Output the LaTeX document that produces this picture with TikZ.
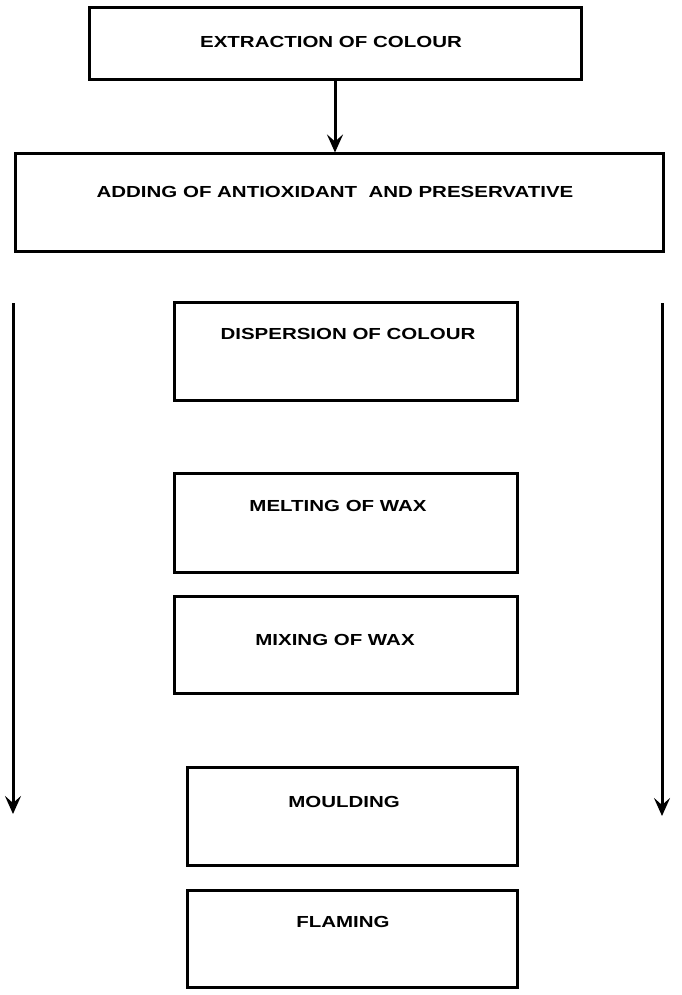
\documentclass[tikz,border=0pt]{standalone}
\usepackage{fontspec}
\setmainfont{Liberation Sans}
\usetikzlibrary{arrows.meta}
\begin{document}
\begin{tikzpicture}[x=1pt,y=-1pt,
  box/.style={draw,line width=3pt,inner sep=0pt},
  lbl/.style={font=\bfseries\fontsize{16}{18}\selectfont,inner sep=0pt,xscale=1.28},
  arr/.style={line width=3pt,-{Stealth[length=18pt,width=16pt,inset=7pt]}}]
\useasboundingbox (0,0) rectangle (681,995);
\node[box,minimum width=492pt,minimum height=72pt] (b1) at (335,44) {};
\node[box,minimum width=648pt,minimum height=97pt] (b2) at (339,202.5) {};
\node[box,minimum width=343pt,minimum height=98pt] (b3) at (345.5,351) {};
\node[box,minimum width=343pt,minimum height=99pt] (b4) at (345.5,522.5) {};
\node[box,minimum width=343pt,minimum height=97pt] (b5) at (345.5,644.5) {};
\node[box,minimum width=330pt,minimum height=98pt] (b6) at (352,816) {};
\node[box,minimum width=330pt,minimum height=97pt] (b7) at (352,938.5) {};
\node[lbl] (t1) at (331,42) {EXTRACTION OF COLOUR};
\node[lbl] (t2) at (335,192) {ADDING OF ANTIOXIDANT\ \ AND PRESERVATIVE};
\node[lbl] (t3) at (348,334) {DISPERSION OF COLOUR};
\node[lbl] (t4) at (338,506) {MELTING OF WAX};
\node[lbl] (t5) at (335,640) {MIXING OF WAX};
\node[lbl] (t6) at (344,802) {MOULDING};
\node[lbl] (t7) at (343,922) {FLAMING};
\draw[arr] (335,80) -- (b2.north -| 335,0);
\coordinate (l1) at (13,303); \coordinate (l2) at (13,814);
\coordinate (r1) at (662,303); \coordinate (r2) at (662,816);
\draw[arr] (l1) -- (l2);
\draw[arr] (r1) -- (r2);
\end{tikzpicture}
\end{document}
